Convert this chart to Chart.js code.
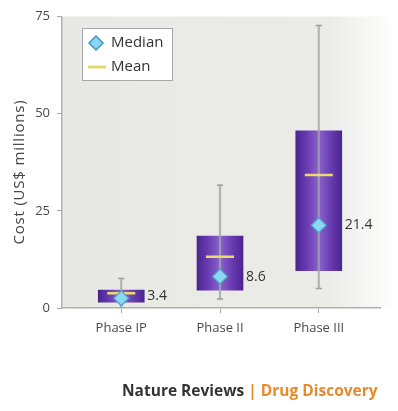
<!DOCTYPE html>
<html>
<head>
<meta charset="utf-8">
<script src="https://cdn.jsdelivr.net/npm/chart.js@4"></script>
<style>
  html, body { margin: 0; padding: 0; background: #fff; }
  #wrap { position: relative; width: 398px; height: 411px; }
  #footer {
    position: absolute; left: 122px; top: 379px;
    font-family: "Open Sans", sans-serif; font-weight: bold; font-size: 15.5px;
    color: #333; white-space: nowrap;
  }
  #footer span { color: #e8892a; }
</style>
</head>
<body>
<div id="wrap">
  <canvas id="costChart" width="398" height="411"></canvas>
  <div id="footer">Nature Reviews <span>| Drug Discovery</span></div>
</div>
<script>
const phases = ['Phase IP', 'Phase II', 'Phase III'];
const boxLow = [1.5, 4.6, 9.6];
const boxHigh = [4.6, 18.5, 45.6];
const whiskerLow = [0.0, 2.3, 5.0];
const whiskerHigh = [7.6, 31.6, 72.7];
const meanValues = [3.8, 13.2, 34.2];
const medianValues = [2.5, 8.1, 21.3];
const medianLabels = ['3.4', '8.6', '21.4'];
const yTicks = [0, 25, 50, 75];

const FONT = '"Open Sans", sans-serif';
const BOX_W = 46;

const pos = phases.map((_, i) => i + 1);

const boxFill = (context) => {
    const chart = context.chart;
    const xs = chart.scales.x;
    if (!chart.chartArea || !xs || !context.raw) return '#6a3db3';
    const cx = xs.getPixelForValue(context.raw.x);
    if (!isFinite(cx)) return '#6a3db3';
    const g = chart.ctx.createLinearGradient(cx - BOX_W / 2, 0, cx + BOX_W / 2, 0);
    g.addColorStop(0, '#4a2590');
    g.addColorStop(0.25, '#6a3db3');
    g.addColorStop(0.5, '#8a63cc');
    g.addColorStop(0.75, '#6a3db3');
    g.addColorStop(1, '#4a2590');
    return g;
};

const plotBackground = {
    id: 'plotBackground',
    beforeDraw(chart) {
        const { ctx, chartArea: a } = chart;
        const g = ctx.createLinearGradient(a.left, 0, a.right + 16, 0);
        g.addColorStop(0, '#e8e8e4');
        g.addColorStop(0.8, '#ebebe8');
        g.addColorStop(1, '#ffffff');
        ctx.save();
        ctx.fillStyle = g;
        ctx.fillRect(a.left, a.top, a.right + 16 - a.left, a.bottom - a.top);
        ctx.restore();
    }
};

const extras = {
    id: 'extras',
    afterDraw(chart) {
        const { ctx } = chart;
        const xs = chart.scales.x, ys = chart.scales.y;
        ctx.save();
        // median labels
        ctx.fillStyle = '#333';
        ctx.font = '14px ' + FONT;
        ctx.textBaseline = 'middle';
        ctx.textAlign = 'left';
        medianLabels.forEach((t, i) => {
            const x = xs.getPixelForValue(pos[i]) + BOX_W / 2 + 3;
            const y = ys.getPixelForValue(i === 0 ? boxLow[i] + (boxHigh[i] - boxLow[i]) / 2 : medianValues[i]);
            ctx.fillText(t, x, y);
        });
        // y title
        ctx.translate(20, 172);
        ctx.rotate(-Math.PI / 2);
        ctx.textAlign = 'center';
        ctx.fillStyle = '#444';
        ctx.font = '15px ' + FONT;
        if ('letterSpacing' in ctx) ctx.letterSpacing = '0.8px';
        ctx.fillText('Cost (US$ millions)', 0, 0);
        ctx.restore();

        // legend
        ctx.save();
        ctx.fillStyle = '#fff';
        ctx.strokeStyle = '#a8a8a8';
        ctx.lineWidth = 1;
        ctx.fillRect(82.5, 28.5, 90, 52);
        ctx.strokeRect(82.5, 28.5, 90, 52);
        // diamond
        ctx.beginPath();
        ctx.moveTo(96, 36); ctx.lineTo(103, 43); ctx.lineTo(96, 50); ctx.lineTo(89, 43); ctx.closePath();
        ctx.fillStyle = '#8cd8f0';
        ctx.fill();
        ctx.strokeStyle = '#3f98c4';
        ctx.lineWidth = 1.5;
        ctx.stroke();
        // mean line
        ctx.strokeStyle = '#e6d86a';
        ctx.lineWidth = 3;
        ctx.beginPath();
        ctx.moveTo(88, 67); ctx.lineTo(106, 67);
        ctx.stroke();
        ctx.fillStyle = '#333';
        ctx.font = '15px ' + FONT;
        ctx.textBaseline = 'middle';
        ctx.fillText('Median', 111, 43);
        ctx.fillText('Mean', 111, 67);
        ctx.restore();
    }
};

new Chart(document.getElementById('costChart'), {
    type: 'bar',
    data: {
        datasets: [
            {
                label: 'Box',
                data: pos.map((x, i) => ({ x: x, y: [boxLow[i], boxHigh[i]] })),
                backgroundColor: boxFill,
                barThickness: BOX_W,
                grouped: false,
                order: 4
            },
            {
                label: 'Whisker',
                data: pos.map((x, i) => ({ x: x, y: [whiskerLow[i], whiskerHigh[i]] })),
                backgroundColor: 'rgba(165,165,170,0.8)',
                barThickness: 1.5,
                grouped: false,
                order: 3
            },
            {
                type: 'scatter',
                label: 'Caps',
                data: pos.map((x, i) => ({ x: x, y: whiskerHigh[i] }))
                    .concat(pos.map((x, i) => ({ x: x, y: whiskerLow[i] }))),
                pointStyle: 'line',
                radius: 3,
                borderColor: '#999',
                borderWidth: 1.5,
                order: 3
            },
            {
                type: 'scatter',
                label: 'Mean',
                data: pos.map((x, i) => ({ x: x, y: meanValues[i] })),
                pointStyle: 'line',
                radius: 14,
                borderColor: '#ecdc6e',
                borderWidth: 2.5,
                order: 2
            },
            {
                type: 'scatter',
                label: 'Median',
                data: pos.map((x, i) => ({ x: x, y: medianValues[i] })),
                pointStyle: 'rectRot',
                radius: 7.5,
                backgroundColor: '#8cd8f0',
                borderColor: '#4aa3cc',
                borderWidth: 1.2,
                order: 1
            }
        ]
    },
    options: {
        responsive: false,
        animation: false,
        layout: { padding: { top: 12, right: 18, bottom: 73, left: 0 } },
        plugins: {
            legend: { display: false },
            tooltip: { enabled: false }
        },
        scales: {
            x: {
                type: 'linear',
                offset: false,
                min: 0.4,
                max: 3.62,
                afterBuildTicks: (axis) => { axis.ticks = pos.map(v => ({ value: v })); },
                afterFit: (axis) => { axis.height = 30; },
                ticks: {
                    callback: (v) => phases[v - 1],
                    color: '#4a4a4a',
                    font: { family: FONT, size: 13 },
                    padding: 7
                },
                grid: { offset: false, drawOnChartArea: false, tickLength: 5, color: '#aaa' },
                border: { color: '#b0b0b0', width: 1.5 }
            },
            y: {
                min: 0,
                max: 75,
                afterBuildTicks: (axis) => { axis.ticks = yTicks.map(v => ({ value: v })); },
                afterFit: (axis) => { axis.width = 62; },
                ticks: {
                    color: '#4a4a4a',
                    font: { family: FONT, size: 13 },
                    padding: 7
                },
                grid: { drawOnChartArea: false, tickLength: 5, color: '#aaa' },
                border: { color: '#b0b0b0', width: 1.5 }
            }
        }
    },
    plugins: [plotBackground, extras]
});
</script>
</body>
</html>
